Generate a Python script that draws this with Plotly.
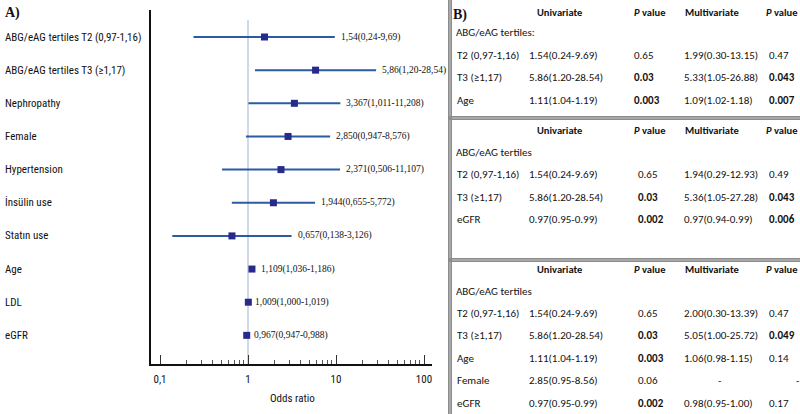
import math
import plotly.graph_objects as go

# ---------------- data: forest plot (panel A) ----------------
labels = ["ABG/eAG tertiles T2 (0,97-1,16)", "ABG/eAG tertiles T3 (≥1,17)", "Nephropathy",
          "Female", "Hypertension", "İnsülin use", "Statın use", "Age", "LDL", "eGFR"]
odds = [1.54, 5.86, 3.367, 2.850, 2.371, 1.944, 0.657, 1.109, 1.009, 0.967]
ci_low = [0.24, 1.20, 1.011, 0.947, 0.506, 0.655, 0.138, 1.036, 1.000, 0.947]
ci_high = [9.69, 28.54, 11.208, 8.576, 11.107, 5.772, 3.126, 1.186, 1.019, 0.988]
ci_text = ["1,54(0,24-9,69)", "5,86(1,20-28,54)", "3,367(1,011-11,208)", "2,850(0,947-8,576)",
           "2,371(0,506-11,107)", "1,944(0,655-5,772)", "0,657(0,138-3,126)", "1,109(1,036-1,186)",
           "1,009(1,000-1,019)", "0,967(0,947-0,988)"]
tick_vals = [0.1, 1, 10, 100]
tick_text = ["0,1", "1", "10", "100"]
minor_vals = [0.2, 0.3, 0.4, 0.5, 0.6, 0.7, 0.8, 0.9, 2, 3, 4, 5, 6, 7, 8, 9,
              20, 30, 40, 50, 60, 70, 80, 90]

# ---------------- data: tables (panel B) ----------------
col_headers = ["Univariate", "<i>P</i> value", "Multivariate", "<i>P</i> value"]

t1_sub = "ABG/eAG tertiles:"
t1_rows = ["T2 (0,97-1,16)", "T3 (≥1,17)", "Age"]
t1_uni = ["1.54(0.24-9.69)", "5.86(1.20-28.54)", "1.11(1.04-1.19)"]
t1_up = ["0.65", "0.03", "0.003"]
t1_multi = ["1.99(0.30-13.15)", "5.33(1.05-26.88)", "1.09(1.02-1.18)"]
t1_mp = ["0.47", "0.043", "0.007"]

t2_sub = "ABG/eAG tertiles"
t2_rows = ["T2 (0,97-1,16)", "T3 (≥1,17)", "eGFR"]
t2_uni = ["1.54(0.24-9.69)", "5.86(1.20-28.54)", "0.97(0.95-0.99)"]
t2_up = ["0.65", "0.03", "0.002"]
t2_multi = ["1.94(0.29-12.93)", "5.36(1.05-27.28)", "0.97(0.94-0.99)"]
t2_mp = ["0.49", "0.043", "0.006"]

t3_sub = "ABG/eAG tertiles"
t3_rows = ["T2 (0,97-1,16)", "T3 (≥1,17)", "Age", "Female", "eGFR"]
t3_uni = ["1.54(0.24-9.69)", "5.86(1.20-28.54)", "1.11(1.04-1.19)", "2.85(0.95-8.56)", "0.97(0.95-0.99)"]
t3_up = ["0.65", "0.03", "0.003", "0.06", "0.002"]
t3_multi = ["2.00(0.30-13.39)", "5.05(1.00-25.72)", "1.06(0.98-1.15)", "-", "0.98(0.95-1.00)"]
t3_mp = ["0.47", "0.049", "0.14", "-", "0.17"]

W, H = 800, 414
def X(px):
    return px / W
def Y(py):
    return 1 - py / H

LINE_C = "#2a5ba3"
MARK_C = "#272a8a"
SANS_N = "Liberation Sans Narrow, Arial Narrow, Roboto Condensed, DejaVu Sans Condensed, sans-serif"
SERIF = "Liberation Serif, Times New Roman, serif"
TFONT = "Carlito, Calibri, Lato, sans-serif"

rows = list(range(len(labels)))
row0_px, row_step = 37, 33.15
y_bottom_px, y_top_px = 364, 10

fig = go.Figure()

xs, ys = [], []
for lo, hi, r in zip(ci_low, ci_high, rows):
    xs += [lo, hi, None]
    ys += [r, r, None]
fig.add_trace(go.Scatter(x=xs, y=ys, mode="lines", line=dict(color=LINE_C, width=2),
                         hoverinfo="skip", showlegend=False))
fig.add_trace(go.Scatter(x=odds, y=rows, mode="markers",
                         marker=dict(symbol="square", size=7, color=MARK_C),
                         showlegend=False))

shapes = [dict(type="line", xref="x", yref="paper", x0=1, x1=1, y0=Y(y_bottom_px), y1=Y(20),
               line=dict(color="#9fb3d1", width=1), layer="below")]

annotations = []
for hi, r, t in zip(ci_high, rows, ci_text):
    annotations.append(dict(x=math.log10(hi), y=r, xref="x", yref="y", text=t,
                            showarrow=False, xanchor="left", yanchor="middle", xshift=4,
                            font=dict(family=SERIF, size=9.5, color="#111")))
for r, lab in zip(rows, labels):
    annotations.append(dict(x=X(3), y=r, xref="paper", yref="y", text=lab, showarrow=False,
                            xanchor="left", yanchor="middle",
                            font=dict(family=SANS_N, size=11, color="#111")))
annotations.append(dict(x=X(3), y=Y(13), xref="paper", yref="paper", text="<b>A)</b>",
                        showarrow=False, xanchor="left", yanchor="middle",
                        font=dict(family=SERIF, size=14, color="#111")))
annotations.append(dict(x=X(292), y=Y(398), xref="paper", yref="paper", text="Odds ratio",
                        showarrow=False, xanchor="center", yanchor="middle",
                        font=dict(family=SANS_N, size=11, color="#111")))

# ---------------- tables ----------------
col_x = [455, 527, 632, 682, 767]
head_x = [535, 632, 683, 764]

def add_table(top_header_py, sub, rlabels, uni, up, multi, mp, p_x, step, sub_gap):
    for hx, h in zip(head_x, col_headers):
        annotations.append(dict(x=X(hx), y=Y(top_header_py), xref="paper", yref="paper",
                                text="<b>" + h + "</b>", showarrow=False, xanchor="left",
                                yanchor="middle", font=dict(family=TFONT, size=10.5, color="#111")))
    sub_py = top_header_py + sub_gap
    annotations.append(dict(x=X(454), y=Y(sub_py), xref="paper", yref="paper", text=sub,
                            showarrow=False, xanchor="left", yanchor="middle",
                            font=dict(family=TFONT, size=11, color="#111")))
    for i, (lab, u, pu, m, pm) in enumerate(zip(rlabels, uni, up, multi, mp)):
        py = sub_py + step * (i + 1)
        vals = [lab, u, pu, m, pm]
        xs_ = [col_x[0], col_x[1], p_x, col_x[3], col_x[4]]
        for j, (v, cx) in enumerate(zip(vals, xs_)):
            txt = v
            if j in (2, 4) and v != "-" and float(v) < 0.05:
                txt = "<b>" + v + "</b>"
            if v == "-":
                cx = 716 if j == 3 else 794
            annotations.append(dict(x=X(cx), y=Y(py), xref="paper", yref="paper", text=txt,
                                    showarrow=False, xanchor="left", yanchor="middle",
                                    font=dict(family=TFONT, size=11, color="#111")))

add_table(12, t1_sub, t1_rows, t1_uni, t1_up, t1_multi, t1_mp, 632, step=23, sub_gap=20)
add_table(130, t2_sub, t2_rows, t2_uni, t2_up, t2_multi, t2_mp, 636, step=22.5, sub_gap=22)
add_table(269, t3_sub, t3_rows, t3_uni, t3_up, t3_multi, t3_mp, 636, step=22.4, sub_gap=22)

annotations.append(dict(x=X(451), y=Y(15), xref="paper", yref="paper", text="<b>B)</b>",
                        showarrow=False, xanchor="left", yanchor="middle",
                        font=dict(family=SERIF, size=14, color="#111")))

# table borders
shapes.append(dict(type="rect", xref="paper", yref="paper", x0=X(448), x1=X(452), y0=0, y1=1,
                   fillcolor="#8c8c8c", line=dict(width=0)))
shapes.append(dict(type="line", xref="paper", yref="paper", x0=X(450), x1=X(450), y0=0, y1=1,
                   line=dict(color="#c4c4c4", width=1)))
for by in (118, 260):
    shapes.append(dict(type="rect", xref="paper", yref="paper", x0=X(448), x1=1,
                       y0=Y(by + 2), y1=Y(by - 2), fillcolor="#8c8c8c", line=dict(width=0)))
    shapes.append(dict(type="line", xref="paper", yref="paper", x0=X(452), x1=1,
                       y0=Y(by), y1=Y(by), line=dict(color="#c4c4c4", width=1)))

fig.update_layout(
    width=W, height=H, margin=dict(l=0, r=0, t=0, b=0),
    paper_bgcolor="white", plot_bgcolor="white",
    showlegend=False,
    annotations=annotations,
    shapes=shapes,
    xaxis=dict(type="log", domain=[X(151), X(432)],
               range=[math.log10(0.1) - 9 / 88, 2 + 8 / 88],
               showline=True, linecolor="#111", linewidth=1.5, showgrid=False, zeroline=False,
               ticks="inside", ticklen=9, tickwidth=1, tickcolor="#333",
               tickvals=tick_vals, ticktext=tick_text, ticklabelstandoff=4,
               tickfont=dict(family=SANS_N, size=11, color="#111"),
               minor=dict(tickvals=minor_vals, ticks="inside", ticklen=4, tickcolor="#555",
                          showgrid=False),
               anchor="y"),
    yaxis=dict(domain=[Y(y_bottom_px), Y(y_top_px)],
               range=[(y_bottom_px - row0_px) / row_step, (y_top_px - row0_px) / row_step],
               showline=True, linecolor="#111", linewidth=1.5, showgrid=False, zeroline=False,
               showticklabels=False, ticks="", anchor="x"),
)

fig.write_html("out.html", config={"displayModeBar": False},
               post_script="document.body.style.margin='0px';"
                           "document.documentElement.style.overflow='hidden';")
